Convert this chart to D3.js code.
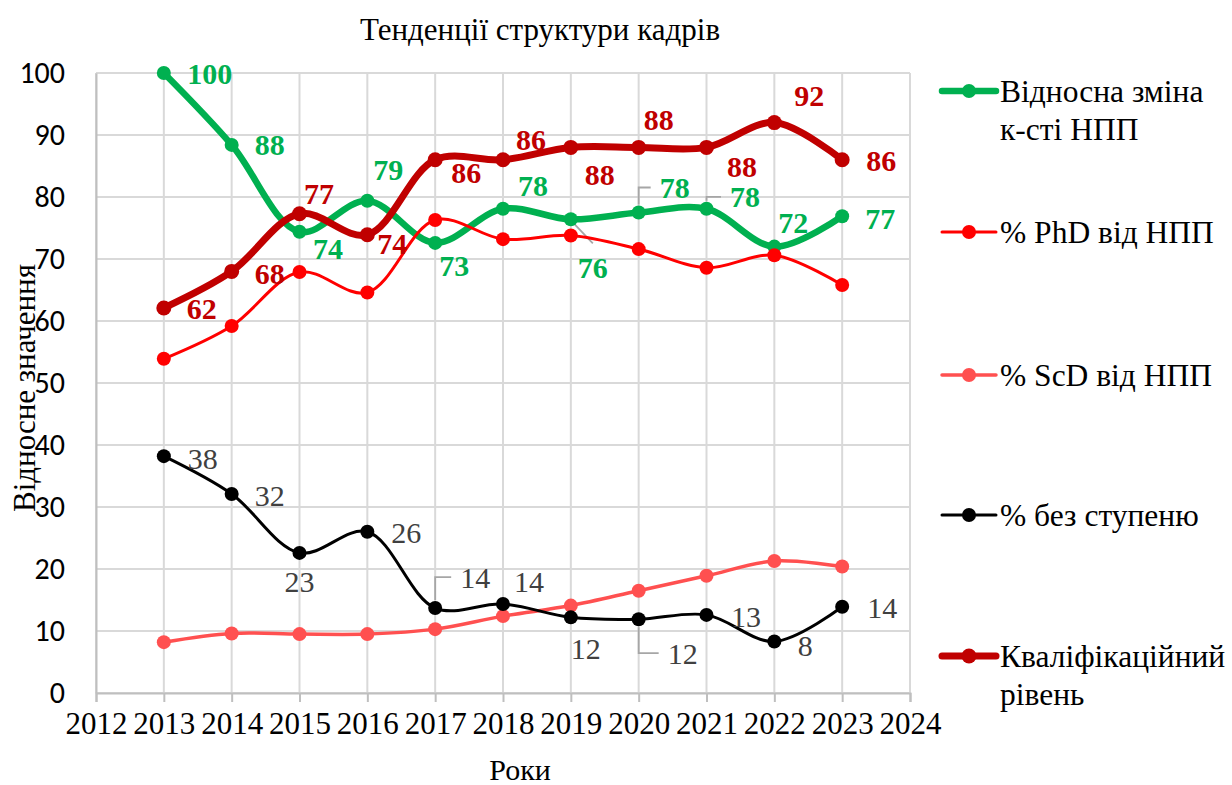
<!DOCTYPE html>
<html><head><meta charset="utf-8">
<script src="https://cdn.jsdelivr.net/npm/d3@7/dist/d3.min.js"></script>
<style>
html,body{margin:0;padding:0;background:#fff;}
svg{display:block;}
</style></head>
<body>
<svg id="chart" width="1232" height="785"></svg>
<script>
// ---- data ----
const years = [2013, 2014, 2015, 2016, 2017, 2018, 2019, 2020, 2021, 2022, 2023];
const xTicks = [2012, 2013, 2014, 2015, 2016, 2017, 2018, 2019, 2020, 2021, 2022, 2023, 2024];
const yTicks = [0, 10, 20, 30, 40, 50, 60, 70, 80, 90, 100];
const relChange = [100, 88.4, 74.4, 79.4, 72.6, 78.1, 76.4, 77.5, 78.1, 72.0, 76.9];
const phdShare  = [53.9, 59.2, 67.9, 64.6, 76.3, 73.2, 73.8, 71.6, 68.6, 70.6, 65.8];
const scdShare  = [8.2, 9.6, 9.5, 9.5, 10.3, 12.4, 14.1, 16.5, 18.9, 21.3, 20.4];
const noDegree  = [38.2, 32.1, 22.6, 26.0, 13.7, 14.35, 12.2, 11.9, 12.6, 8.3, 13.9];
const qualLevel = [62.1, 68.0, 77.3, 73.9, 86.0, 86.0, 88.0, 88.0, 88.0, 92.0, 86.0];
const seriesNames = [["Відносна зміна", "к-сті НПП"], ["% PhD від НПП"], ["% ScD від НПП"], ["% без ступеню"], ["Кваліфікаційний", "рівень"]];
const titleText = "Тенденції структури кадрів";
const xTitle = "Роки";
const yTitle = "Відносне значення";

// ---- label placement (offsets from point, px) ----
const greenLabelOff = [[46,0],[38,0],[28.5,17],[21,-31],[19,23],[30,-23],[22,48],[36,-25],[38.5,-12],[19,-24],[38,2]];
const qualLabelOff  = [[38,1],[38,2],[19.5,-20],[25,9],[31,13],[28,-20],[29,27],[20,-28],[35.5,19],[35,-27],[39,1]];
const blackLabelOff = [[39,2],[38,2],[0,29],[39,1],[40,-31],[26,-23],[15,31],[44,34],[39.5,2],[31,3.5],[40,1]];

const serif = "Liberation Serif, Times New Roman, serif";
const sans = "Carlito, Liberation Sans, sans-serif";

const svg = d3.select("#chart");
const x = d3.scaleLinear().domain([2012, 2024]).range([96, 910]);
const y = d3.scaleLinear().domain([0, 100]).range([693, 73]);

// grid
const grid = svg.append("g");
grid.selectAll(".hg").data(yTicks).join("line")
  .attr("x1", x(2012)).attr("x2", x(2024))
  .attr("y1", d => y(d)).attr("y2", d => y(d))
  .attr("stroke", "#d9d9d9").attr("stroke-width", 2);
grid.selectAll(".vg").data(xTicks).join("line")
  .attr("x1", d => x(d)).attr("x2", d => x(d))
  .attr("y1", y(0)).attr("y2", y(100))
  .attr("stroke", "#d9d9d9").attr("stroke-width", 2);

// axes
const xAxis = svg.append("g").attr("transform", `translate(0,${y(0)})`)
  .call(d3.axisBottom(x).tickValues(xTicks).tickFormat(d3.format("d")).tickSize(9).tickPadding(10));
xAxis.select(".domain").attr("stroke", "#bfbfbf").attr("stroke-width", 2);
xAxis.selectAll(".tick line").attr("stroke", "#bfbfbf").attr("stroke-width", 2);
xAxis.selectAll("text").attr("font-family", serif).attr("font-size", 31).attr("fill", "#000");

const yAxis = svg.append("g").attr("transform", `translate(${x(2012)},0)`)
  .call(d3.axisLeft(y).tickValues(yTicks).tickSize(0).tickPadding(31));
yAxis.select(".domain").attr("stroke", "#bfbfbf").attr("stroke-width", 2);
yAxis.selectAll("text").attr("font-family", sans).attr("font-size", 30).attr("fill", "#000");

// titles
svg.append("text").attr("x", 540).attr("y", 40).attr("text-anchor", "middle")
  .attr("font-family", serif).attr("font-size", 31).text(titleText);
svg.append("text").attr("x", 520).attr("y", 780).attr("text-anchor", "middle")
  .attr("font-family", serif).attr("font-size", 30).text(xTitle);
svg.append("text").attr("transform", "translate(35,388) rotate(-90)").attr("text-anchor", "middle")
  .attr("font-family", serif).attr("font-size", 31).text(yTitle);

// series
const series = [
  {vals: relChange, color: "#00B050", w: 6.5, r: 7},
  {vals: phdShare,  color: "#FF0000", w: 3,   r: 7},
  {vals: scdShare,  color: "#FF5050", w: 3.5, r: 7},
  {vals: noDegree,  color: "#000000", w: 3,   r: 7},
  {vals: qualLevel, color: "#C00000", w: 7,   r: 7.5}
];
const line = d3.line().x((d, i) => x(years[i])).y(d => y(d)).curve(d3.curveCatmullRom.alpha(0.5));

// leader lines (drawn under the series)
const leaders = svg.append("g").attr("stroke", "#a6a6a6").attr("stroke-width", 1.8).attr("fill", "none");
function labelPos(vals, off, i) { return [x(years[i]) + off[i][0], y(vals[i]) + off[i][1]]; }
function elbow(vals, off, i, halfW, sign) {
  const px = x(years[i]), py = y(vals[i]);
  const [lx, ly] = labelPos(vals, off, i);
  leaders.append("path").attr("d", `M${px},${py + sign * 8}V${ly}H${lx - halfW - 8}`);
}
elbow(relChange, greenLabelOff, 7, 16, -1);
elbow(relChange, greenLabelOff, 8, 16, -1);
elbow(noDegree, blackLabelOff, 4, 16, -1);
elbow(noDegree, blackLabelOff, 7, 16, 1);
{
  const px = x(years[6]), py = y(relChange[6]);
  const [lx, ly] = labelPos(relChange, greenLabelOff, 6);
  leaders.append("line").attr("x1", px + 1).attr("y1", py + 2).attr("x2", lx).attr("y2", ly - 24);
}

series.forEach(s => {
  const g = svg.append("g");
  g.append("path").datum(s.vals).attr("d", line).attr("fill", "none")
    .attr("stroke", s.color).attr("stroke-width", s.w).attr("stroke-linejoin", "round").attr("stroke-linecap", "round");
  g.selectAll("circle").data(s.vals).join("circle")
    .attr("cx", (d, i) => x(years[i])).attr("cy", d => y(d)).attr("r", s.r).attr("fill", s.color);
});

// data labels
function labels(vals, off, color, weight) {
  svg.append("g").selectAll("text").data(vals).join("text")
    .attr("x", (d, i) => labelPos(vals, off, i)[0])
    .attr("y", (d, i) => labelPos(vals, off, i)[1])
    .attr("dy", "0.35em").attr("text-anchor", "middle")
    .attr("font-family", serif).attr("font-size", 30).attr("font-weight", weight)
    .attr("fill", color).text(d => Math.round(d));
}
labels(relChange, greenLabelOff, "#00B050", "bold");
labels(qualLevel, qualLabelOff, "#C00000", "bold");
labels(noDegree, blackLabelOff, "#404040", "normal");

// legend
const legendY = [91, 232, 375, 515, 656];
const lg = svg.append("g");
series.forEach((s, k) => {
  const ly = legendY[k];
  lg.append("line").attr("x1", 942).attr("x2", 996).attr("y1", ly).attr("y2", ly)
    .attr("stroke", s.color).attr("stroke-width", s.w).attr("stroke-linecap", "round");
  lg.append("circle").attr("cx", 969).attr("cy", ly).attr("r", s.r).attr("fill", s.color);
  const t = lg.append("text").attr("x", 1000).attr("y", ly + 11)
    .attr("font-family", serif).attr("font-size", 31.5).attr("fill", "#000");
  seriesNames[k].forEach((ln, j) => {
    t.append("tspan").attr("x", 1000).attr("dy", j === 0 ? 0 : 37.5).text(ln);
  });
});
</script>
</body></html>
